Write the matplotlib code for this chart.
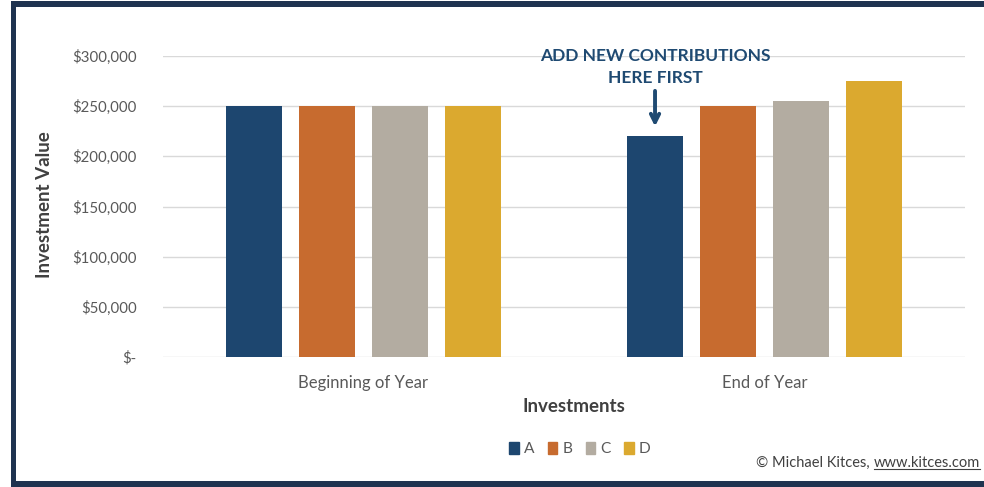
import numpy as np
import matplotlib
matplotlib.use("Agg")
import matplotlib.pyplot as plt
from matplotlib.patches import Rectangle, Patch

plt.rcParams['font.family'] = ['Lato', 'DejaVu Sans']

# data
groups = ['Beginning of Year', 'End of Year']
series = ['A', 'B', 'C', 'D']
values = {
    'A': [250000, 220000],
    'B': [250000, 250000],
    'C': [250000, 255000],
    'D': [250000, 275000],
}
colors = ['#1d466f', '#c76b2f', '#b3aca1', '#dba92f']
yticks = [0, 50000, 100000, 150000, 200000, 250000, 300000]

W, H = 984, 487
fig = plt.figure(figsize=(W / 100, H / 100), dpi=100)
ax = fig.add_axes([163 / W, 1 - 357 / H, 802 / W, 301 / H])

x = np.arange(len(groups))
step = 0.182
width = 0.142
for i, s in enumerate(series):
    ax.bar(x + (i - 1.5) * step, values[s], width=width, color=colors[i], zorder=3, label=s)

ax.set_xlim(-0.5, 1.5)
ax.set_ylim(0, 300000)
ax.set_yticks(yticks)
ax.set_yticklabels(['$-' if v == 0 else '${:,.0f}'.format(v) for v in yticks])
for v in yticks:
    ax.axhline(v, color='#d9d9d9', lw=1, zorder=1)
ax.set_xticks(x)
ax.set_xticklabels(groups)
for sp in ax.spines.values():
    sp.set_visible(False)
ax.tick_params(axis='y', length=0, pad=19, labelsize=10.8, labelcolor='#595959')
ax.tick_params(axis='x', length=0, pad=13, labelsize=12, labelcolor='#595959')
ax.set_xlabel('Investments', fontsize=13.5, fontweight='bold', color='#404040', va='center')
ax.set_ylabel('Investment Value', fontsize=13.5, fontweight='bold', color='#404040', va='center')
ax.xaxis.set_label_coords((574 - 163) / 802, (357 - 407) / 301)
ax.yaxis.set_label_coords((45 - 163) / 802, (357 - 205) / 301)

# annotation with arrow above End-of-Year A
xa = x[1] - 1.5 * step
ax.annotate('', xy=(xa, 227000), xytext=(xa, 268000),
            arrowprops=dict(arrowstyle='->', lw=2.8, color='#1f4a72', mutation_scale=15),
            annotation_clip=False)
ax.text(xa, 270000, 'ADD NEW CONTRIBUTIONS\nHERE FIRST', ha='center', va='bottom',
        fontsize=12.5, fontweight='bold', color='#1f4a72', linespacing=1.45)

handles = [Patch(color=c) for c in colors]
fig.legend(handles, series, loc='center', bbox_to_anchor=(580 / W, 1 - 449 / H), ncol=4,
           frameon=False, handlelength=0.6, handleheight=0.8, handletextpad=0.35,
           columnspacing=0.85, fontsize=11.2, labelcolor='#595959')

# credit line with underlined url
fig.canvas.draw()
r = fig.canvas.get_renderer()
url = fig.text(980 / W, 1 - 463 / H, 'www.kitces.com', ha='right', va='center',
               fontsize=10.5, color='#404040')
bb = url.get_window_extent(renderer=r)
fig.add_artist(plt.Line2D([bb.x0 / W, bb.x1 / W], [(bb.y0 + 1) / H] * 2, lw=0.8, color='#404040'))
fig.text(bb.x0 / W, 1 - 463 / H, '\u00a9 Michael Kitces, ', ha='right', va='center',
         fontsize=10.5, color='#404040')

# dark frame
navy = '#1f3350'
for (x0, y0, w, h) in [(11, 1, W - 11, 6), (11, 1, 5, H), (11, 481, W - 11, 6)]:
    fig.add_artist(Rectangle((x0 / W, 1 - (y0 + h) / H), w / W, h / H,
                             transform=fig.transFigure, color=navy, lw=0))

fig.savefig('out.png', dpi=100)
